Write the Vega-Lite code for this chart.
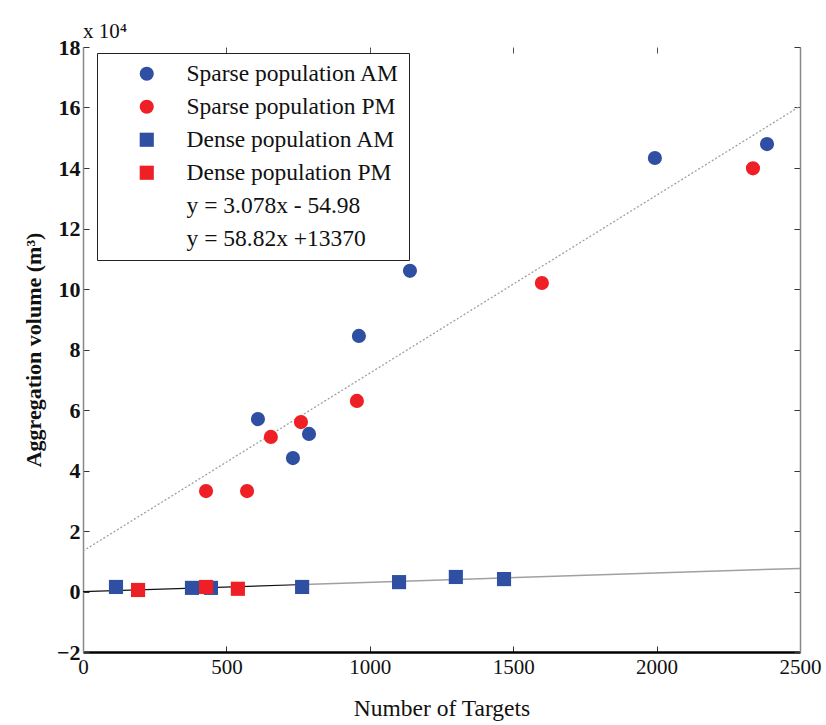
{
  "$schema": "https://vega.github.io/schema/vega-lite/v6.json",
  "autosize": {"type": "none"},
  "padding": {"left": 83, "top": 47, "right": 26, "bottom": 73},
  "width": 717,
  "height": 605,
  "background": "white",
  "config": {
    "view": {"stroke": null},
    "font": "Liberation Serif",
    "axis": {"grid": false, "labelFont": "Liberation Serif", "titleFont": "Liberation Serif", "titleFontWeight": "normal", "labelColor": "#111", "titleColor": "#111"},
    "legend": {"labelFont": "Liberation Serif"}
  },
  "title": {"text": "x 10⁴", "anchor": "start", "frame": "group", "font": "Liberation Serif", "fontSize": 21, "fontWeight": "normal", "color": "#111", "offset": -6},
  "datasets": {
    "pts": [
      {"series": "Sparse population AM", "targets": 610, "volume": 5.70},
      {"series": "Sparse population AM", "targets": 788, "volume": 5.21},
      {"series": "Sparse population AM", "targets": 732, "volume": 4.41},
      {"series": "Sparse population AM", "targets": 962, "volume": 8.45},
      {"series": "Sparse population AM", "targets": 1140, "volume": 10.6},
      {"series": "Sparse population AM", "targets": 1994, "volume": 14.33},
      {"series": "Sparse population AM", "targets": 2385, "volume": 14.79},
      {"series": "Sparse population PM", "targets": 655, "volume": 5.11},
      {"series": "Sparse population PM", "targets": 760, "volume": 5.60},
      {"series": "Sparse population PM", "targets": 955, "volume": 6.30},
      {"series": "Sparse population PM", "targets": 429, "volume": 3.32},
      {"series": "Sparse population PM", "targets": 572, "volume": 3.32},
      {"series": "Sparse population PM", "targets": 1600, "volume": 10.2},
      {"series": "Sparse population PM", "targets": 2336, "volume": 13.99},
      {"series": "Dense population AM", "targets": 115, "volume": 0.15},
      {"series": "Dense population AM", "targets": 380, "volume": 0.12},
      {"series": "Dense population AM", "targets": 446, "volume": 0.12},
      {"series": "Dense population AM", "targets": 764, "volume": 0.15},
      {"series": "Dense population AM", "targets": 1102, "volume": 0.31},
      {"series": "Dense population AM", "targets": 1300, "volume": 0.48},
      {"series": "Dense population AM", "targets": 1468, "volume": 0.41},
      {"series": "Dense population PM", "targets": 192, "volume": 0.05},
      {"series": "Dense population PM", "targets": 429, "volume": 0.15},
      {"series": "Dense population PM", "targets": 540, "volume": 0.09}
    ],
    "fits": [
      {"fit": "sparse", "targets": 0, "volume": 1.337},
      {"fit": "sparse", "targets": 2500, "volume": 16.042},
      {"fit": "denseA", "targets": 0, "volume": -0.0055},
      {"fit": "denseA", "targets": 770, "volume": 0.2315},
      {"fit": "denseB", "targets": 770, "volume": 0.2315},
      {"fit": "denseB", "targets": 2500, "volume": 0.764}
    ]
  },
  "layer": [
    {
      "data": {"name": "fits"},
      "transform": [{"filter": "datum.fit === 'sparse'"}],
      "mark": {"type": "line", "color": "#a0a0a0", "strokeWidth": 1.3, "strokeDash": [2, 2]},
      "encoding": {
        "x": {"field": "targets", "type": "quantitative", "scale": {"domain": [0, 2500], "nice": false}, "axis": null},
        "y": {"field": "volume", "type": "quantitative", "scale": {"domain": [-2, 18], "nice": false}, "axis": null}
      }
    },
    {
      "data": {"name": "fits"},
      "transform": [{"filter": "datum.fit === 'denseA'"}],
      "mark": {"type": "line", "color": "#111", "strokeWidth": 1.2},
      "encoding": {
        "x": {"field": "targets", "type": "quantitative", "axis": null},
        "y": {"field": "volume", "type": "quantitative", "axis": null}
      }
    },
    {
      "data": {"name": "fits"},
      "transform": [{"filter": "datum.fit === 'denseB'"}],
      "mark": {"type": "line", "color": "#a0a0a0", "strokeWidth": 1.5},
      "encoding": {
        "x": {"field": "targets", "type": "quantitative", "axis": null},
        "y": {"field": "volume", "type": "quantitative", "axis": null}
      }
    },
    {
      "data": {"name": "pts"},
      "mark": {"type": "point", "filled": true, "opacity": 1, "size": 200},
      "encoding": {
        "x": {"field": "targets", "type": "quantitative", "title": "Number of Targets",
          "axis": {"orient": "bottom", "values": [0, 500, 1000, 1500, 2000, 2500], "format": "d", "domainColor": "#000", "domainWidth": 2.5, "tickColor": "#333", "tickSize": -6, "labelPadding": 10, "labelFont": "Liberation Serif", "labelFontSize": 21, "titleFont": "Liberation Serif", "titleFontSize": 23.5, "titlePadding": 19, "labelFlush": false}},
        "y": {"field": "volume", "type": "quantitative", "title": "Aggregation volume (m³)",
          "axis": {"orient": "left", "values": [-2, 0, 2, 4, 6, 8, 10, 12, 14, 16, 18], "domainColor": "#888", "domainWidth": 1.5, "tickColor": "#333", "tickSize": -6, "labelPadding": 9, "labelFont": "Liberation Serif", "labelFontSize": 22, "labelFontWeight": "bold", "titleFont": "Liberation Serif", "titleFontSize": 22, "titleFontWeight": "bold", "titlePadding": 11}},
        "color": {"field": "series", "type": "nominal",
          "scale": {"domain": ["Sparse population AM", "Sparse population PM", "Dense population AM", "Dense population PM", "y = 3.078x - 54.98", "y = 58.82x +13370"],
            "range": ["#2f4fa3", "#ee1f25", "#2f4fa3", "#ee1f25", "transparent", "transparent"]},
          "legend": {"orient": "none", "legendX": 14, "legendY": 6, "title": null, "strokeColor": "#222", "fillColor": "white", "padding": 9, "labelFont": "Liberation Serif", "labelFontSize": 23.5, "labelColor": "#111", "labelLimit": 400, "symbolOffset": 29, "labelOffset": 28, "rowPadding": 8, "symbolSize": 200}},
        "shape": {"field": "series", "type": "nominal",
          "scale": {"domain": ["Sparse population AM", "Sparse population PM", "Dense population AM", "Dense population PM", "y = 3.078x - 54.98", "y = 58.82x +13370"],
            "range": ["circle", "circle", "square", "square", "circle", "circle"]},
          "legend": {"orient": "none", "legendX": 14, "legendY": 6, "title": null, "strokeColor": "#222", "fillColor": "white", "padding": 9, "labelFont": "Liberation Serif", "labelFontSize": 23.5, "labelColor": "#111", "labelLimit": 400, "symbolOffset": 29, "labelOffset": 28, "rowPadding": 8, "symbolSize": 200}}
      }
    },
    {
      "data": {"name": "fits"},
      "mark": {"type": "point", "opacity": 0},
      "encoding": {
        "x": {"field": "targets", "type": "quantitative",
          "axis": {"orient": "top", "values": [0, 500, 1000, 1500, 2000, 2500], "domain": false, "labels": false, "title": null, "tickColor": "#555", "tickSize": -6}},
        "y": {"field": "volume", "type": "quantitative",
          "axis": {"orient": "right", "values": [-2, 0, 2, 4, 6, 8, 10, 12, 14, 16, 18], "domainColor": "#888", "domainWidth": 1.5, "labels": false, "title": null, "tickColor": "#333", "tickSize": -6}}
      }
    }
  ],
  "resolve": {"axis": {"x": "independent", "y": "independent"}}
}
